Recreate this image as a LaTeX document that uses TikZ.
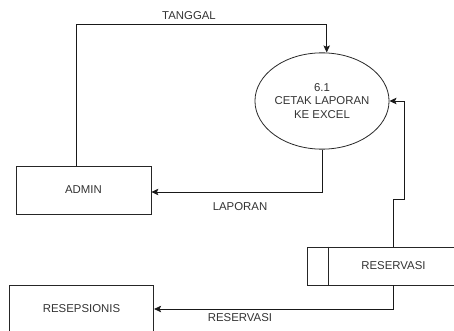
\documentclass[tikz,border=0pt]{standalone}
\usepackage{fontspec}
\setmainfont{Liberation Sans}
\usetikzlibrary{shapes.geometric,arrows.meta,calc}
\begin{document}
\begin{tikzpicture}[x=1pt,y=-1pt,
  every node/.style={font=\fontsize{11.4}{13.7}\selectfont, text=black!80},
  entity/.style={draw=black!85, line width=0.8pt, minimum height=48pt, inner sep=0pt},
  process/.style={ellipse, draw=black!85, line width=0.8pt, minimum width=124.6pt,
    minimum height=96.3pt, inner sep=0pt, align=center},
  datastore/.style={draw=black!85, line width=0.8pt, minimum width=173pt,
    minimum height=38pt, inner sep=0pt},
  flow/.style={draw=black!90, line width=0.8pt, -{Stealth[length=7pt,width=6.5pt,inset=1.5pt]}},
  lbl/.style={inner sep=0pt}]
\useasboundingbox (0,0) rectangle (454,331);
\begin{scope}
\clip (0,0) rectangle (454,331);

% entities, process and data store
\node[entity, minimum width=135pt] (admin) at (83.5,190) {ADMIN};
\node[entity, minimum width=144.4pt] (resep) at (81.5,309) {RESEPSIONIS};
\node[process] (proc) at (322,101) {6.1\\CETAK LAPORAN\\KE EXCEL};
\node[datastore] (store) at (393.5,266) {RESERVASI};
\draw[black!85, line width=0.8pt] ($(store.north west)+(22,0)$) -- ($(store.south west)+(22,0)$);

% data flows
\draw[flow] ($(admin.north)+(-6.8,0)$) |- ($(proc.north)+(4.7,-28)$) -- ($(proc.north)+(4.7,0)$);
\draw[flow] (proc.south) |- ($(admin.east)+(0,2)$);
\draw[flow] (store.north) -- ++(0,-47) -- ++(10.7,0) |- (proc.east);
\draw[flow] (store.south) |- (resep.east);

% flow labels
\node[lbl] (ltanggal) at (189,16) {TANGGAL};
\node[lbl] (llaporan) at (240,207) {LAPORAN};
\node[lbl] (lreservasi) at (240,318) {RESERVASI};
\end{scope}
\end{tikzpicture}
\end{document}
